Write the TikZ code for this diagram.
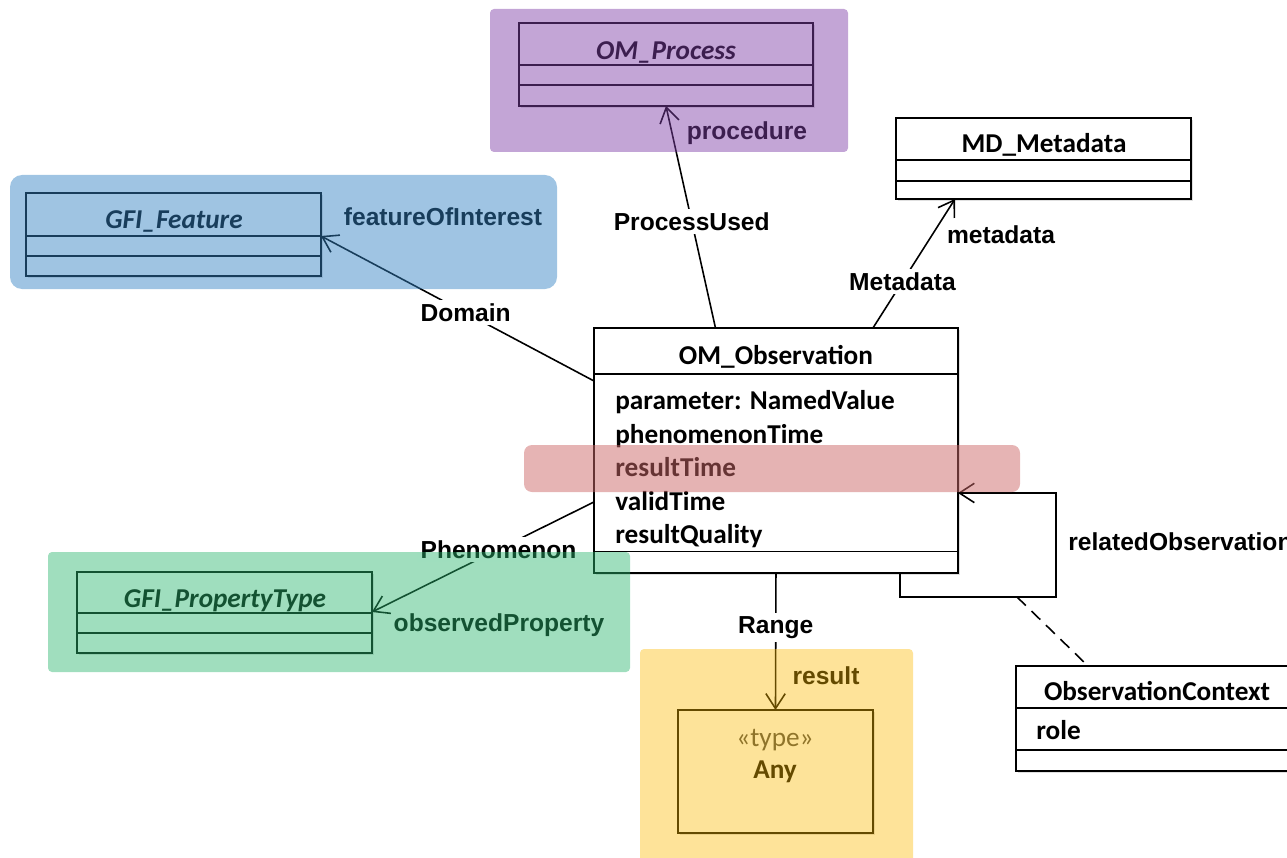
\documentclass[tikz,border=0pt]{standalone}
\usepackage{fontspec}
\setmainfont{Liberation Sans}
\newfontfamily\calfont{Carlito}
\usepackage{tikz}
\usetikzlibrary{
	arrows.meta,shadows
}

\definecolor{procpurple}{RGB}{128,64,168}
\definecolor{featblue}{RGB}{51,130,195}
\definecolor{propgreen}{RGB}{44,182,111}
\definecolor{anyyellow}{RGB}{252,185,0}
\definecolor{timered}{RGB}{205,105,105}

\tikzset{
	classbox/.style={draw, line width=1.3pt, fill=white, anchor=north west,
		inner sep=0pt, outer sep=0pt,
		drop shadow={shadow xshift=1.2pt, shadow yshift=-1.2pt, opacity=0.25}},
	compart/.style={line width=0.6pt},
	classname/.style={font=\calfont\bfseries\fontsize{15.5}{18}\selectfont, anchor=base, inner sep=0pt},
	abstractname/.style={classname, font=\calfont\bfseries\itshape\fontsize{15.5}{18}\selectfont},
	attr/.style={font=\calfont\bfseries\fontsize{15.5}{18}\selectfont, anchor=base west, inner sep=0pt},
	assoc/.style={line width=0.9pt},
	assocname/.style={font=\bfseries\fontsize{14}{16}\selectfont, fill=white, inner sep=2pt},
	rolename/.style={font=\bfseries\fontsize{14}{16}\selectfont, anchor=base, inner sep=0pt},
	colorband/.style={fill=#1, fill opacity=0.47, rounded corners=0.08cm}
}

\begin{document}
\begin{tikzpicture}[x=0.02cm, y=-0.02cm, >={Straight Barb[length=8.5pt,width=11pt]}]
	\useasboundingbox (0,0) rectangle (1287,858);
	\clip (0,0) rectangle (1287,858);
	%
	% classes
	\node[classbox, minimum width=5.88cm, minimum height=1.66cm] (proc) at (519,23) {};
	\node[classbox, minimum width=5.9cm, minimum height=1.66cm] (feat) at (26,193) {};
	\node[classbox, minimum width=5.9cm, minimum height=1.62cm] (meta) at (896,118) {};
	\node[classbox, minimum width=7.28cm, minimum height=4.9cm] (obs) at (594,328) {};
	\node[classbox, minimum width=5.9cm, minimum height=1.62cm] (prop) at (77,572) {};
	\node[classbox, minimum width=3.9cm, minimum height=2.46cm] (any) at (678,710) {};
	\node[classbox, minimum width=6cm, minimum height=2.1cm] (ctx) at (1016,666) {};
	%
	% compartments
	\draw[compart] ([yshift=-0.84cm]proc.north west) -- ([yshift=-0.84cm]proc.north east);
	\draw[compart] ([yshift=-1.24cm]proc.north west) -- ([yshift=-1.24cm]proc.north east);
	\draw[compart] ([yshift=-0.86cm]feat.north west) -- ([yshift=-0.86cm]feat.north east);
	\draw[compart] ([yshift=-1.26cm]feat.north west) -- ([yshift=-1.26cm]feat.north east);
	\draw[compart] ([yshift=-0.84cm]meta.north west) -- ([yshift=-0.84cm]meta.north east);
	\draw[compart] ([yshift=-1.26cm]meta.north west) -- ([yshift=-1.26cm]meta.north east);
	\draw[compart] ([yshift=-0.92cm]obs.north west) -- ([yshift=-0.92cm]obs.north east);
	\draw[compart] ([yshift=-4.48cm]obs.north west) -- ([yshift=-4.48cm]obs.north east);
	\draw[compart] ([yshift=-0.82cm]prop.north west) -- ([yshift=-0.82cm]prop.north east);
	\draw[compart] ([yshift=-1.22cm]prop.north west) -- ([yshift=-1.22cm]prop.north east);
	\draw[compart] ([yshift=-0.84cm]ctx.north west) -- ([yshift=-0.84cm]ctx.north east);
	\draw[compart] ([yshift=-1.68cm]ctx.north west) -- ([yshift=-1.68cm]ctx.north east);
	%
	% class names and attributes
	\node[abstractname] (procname) at (666,60) {OM\_Process};
	\node[abstractname] (featname) at (174,229) {GFI\_Feature};
	\node[classname] (metaname) at (1044,153) {MD\_Metadata};
	\node[classname] (obsname) at (776,364) {OM\_Observation};
	\node[abstractname] (propname) at (225,607) {GFI\_PropertyType};
	\node[classname] (ctxname) at (1157,700) {ObservationContext};
	\node[classname, font=\calfont\fontsize{15.5}{18}\selectfont, text=black!72] (anystereo) at (775,746) {«type»};
	\node[classname] (anyname) at (775,778) {Any};
	\node[attr] (parameter) at (615,409) {parameter: NamedValue};
	\node[attr] (phentime) at (615,443) {phenomenonTime};
	\node[attr] (restime) at (615,476) {resultTime};
	\node[attr] (validtime) at (615,510) {validTime};
	\node[attr] (resquality) at (615,543) {resultQuality};
	\node[attr] (role) at (1036,739) {role};
	%
	% associations
	\coordinate (loopcorner) at (1056,597);
	\coordinate (loopfoot) at (1017,597);
	\draw[assoc,->] ([xshift=-1.21cm]obs.north) -- node[assocname, pos=0.48] (procassoc) {ProcessUsed} (proc.south);
	\draw[assoc,->] ([yshift=-1.06cm]obs.north west) -- node[assocname, pos=0.47] (featassoc) {Domain} ([yshift=-0.86cm]feat.north east);
	\draw[assoc,->] ([xshift=1.94cm]obs.north) -- node[assocname, pos=0.36] (metaassoc) {Metadata} ([xshift=-1.77cm]meta.south);
	\draw[assoc,->] ([yshift=-3.48cm]obs.north west) -- node[assocname, pos=0.43] (propassoc) {Phenomenon} ([yshift=-0.8cm]prop.north east);
	\draw[assoc,->] (obs.south) -- node[assocname, pos=0.4] (anyassoc) {Range} (any.north);
	\draw[assoc,->] ([xshift=2.48cm]obs.south) |- (loopcorner) |- ([yshift=-3.3cm]obs.north east);
	\draw[assoc, dash pattern=on 7pt off 4.5pt] (loopfoot) -- ([xshift=1.44cm]ctx.north west);
	%
	% role names
	\node[rolename] (procrole) at (747,140) {procedure};
	\node[rolename] (featrole) at (443,225) {featureOfInterest};
	\node[rolename] (metarole) at (1001,243) {metadata};
	\node[rolename] (proprole) at (499,631) {observedProperty};
	\node[rolename] (anyrole) at (826,684) {result};
	\node[rolename, anchor=base west] (obsrole) at (1068,550) {relatedObservation};
	%
	% coloured bands
	\fill[colorband=procpurple] (490,9) rectangle (848,152);
	\fill[colorband=featblue, rounded corners=0.24cm] (10,175) rectangle (557,289);
	\fill[colorband=propgreen, fill opacity=0.45] (48,552) rectangle (630,672);
	\fill[colorband=anyyellow, fill opacity=0.4] (640,649) rectangle (913,870);
	\fill[colorband=timered, fill opacity=0.5, rounded corners=0.16cm] (524,445) rectangle (1020,492);
\end{tikzpicture}
\end{document}
